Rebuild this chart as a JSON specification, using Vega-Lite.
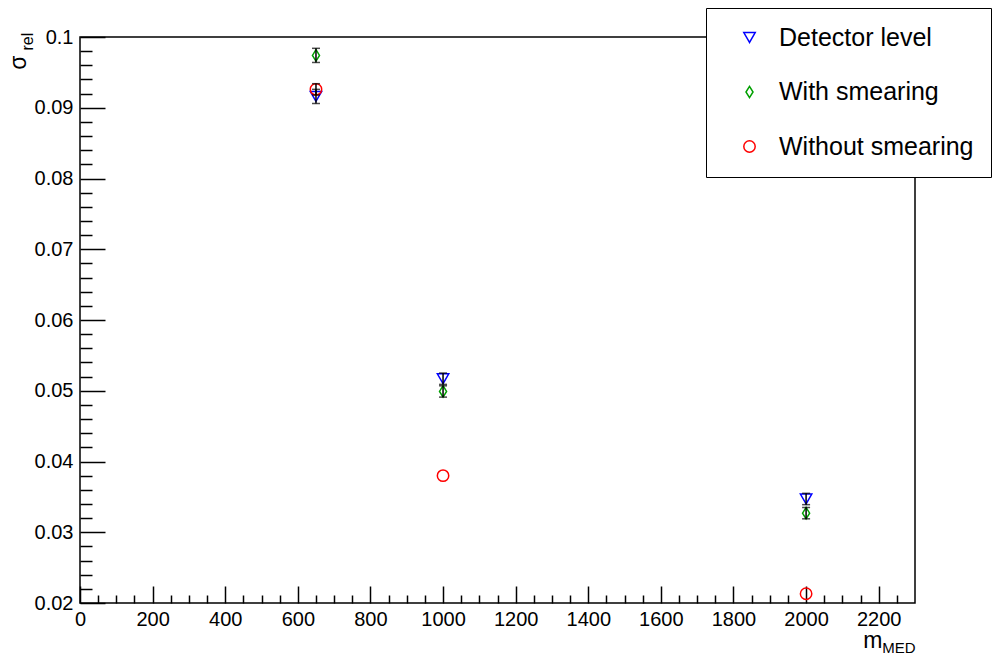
{
  "$schema": "https://vega.github.io/schema/vega-lite/v6.json",
  "width": 835,
  "height": 566,
  "autosize": {"type": "none"},
  "padding": {"left": 80, "top": 37, "right": 80, "bottom": 55},
  "background": "white",
  "config": {
    "view": {"stroke": "black", "strokeWidth": 1.5},
    "font": "Liberation Sans",
    "axis": {
      "grid": false,
      "domain": false,
      "labelFont": "Liberation Sans",
      "titleFont": "Liberation Sans",
      "labelColor": "black",
      "titleColor": "black",
      "tickColor": "black",
      "tickWidth": 1.5,
      "titleFontWeight": "normal",
      "labelFontSize": 20,
      "labelFlush": false,
      "labelOverlap": false
    },
    "legend": {
      "orient": "none",
      "legendX": 626,
      "legendY": -29,
      "strokeColor": "black",
      "fillColor": "white",
      "padding": 17,
      "labelFont": "Liberation Sans",
      "labelFontSize": 25,
      "labelColor": "black",
      "labelLimit": 400,
      "symbolSize": 130,
      "symbolStrokeWidth": 1.5,
      "rowPadding": 28.5,
      "symbolOffset": 14,
      "labelOffset": 17
    }
  },
  "data": {
    "values": [
      {"m": 650, "series": "Detector level", "sigma": 0.0916, "err": 0.001},
      {"m": 650, "series": "With smearing", "sigma": 0.0974, "err": 0.001},
      {"m": 650, "series": "Without smearing", "sigma": 0.0926, "err": 0.0008},
      {"m": 1000, "series": "Detector level", "sigma": 0.0517, "err": 0.0008},
      {"m": 1000, "series": "With smearing", "sigma": 0.0499, "err": 0.0008},
      {"m": 1000, "series": "Without smearing", "sigma": 0.038, "err": 0},
      {"m": 2000, "series": "Detector level", "sigma": 0.0347, "err": 0.0008},
      {"m": 2000, "series": "With smearing", "sigma": 0.0327, "err": 0.0008},
      {"m": 2000, "series": "Without smearing", "sigma": 0.0213, "err": 0}
    ]
  },
  "layer": [
    {
      "mark": {"type": "point", "filled": false, "strokeWidth": 1.5, "size": 130, "opacity": 1},
      "encoding": {
        "x": {
          "field": "m",
          "type": "quantitative",
          "scale": {"domain": [0, 2300], "nice": false, "zero": false},
          "axis": {
            "orient": "bottom",
            "values": [0, 200, 400, 600, 800, 1000, 1200, 1400, 1600, 1800, 2000, 2200],
            "ticks": false,
            "labelPadding": 6,
            "format": "d",
            "title": "m",
            "titleX": 802,
            "titleY": 44,
            "titleAlign": "right",
            "titleBaseline": "alphabetic",
            "titleFontSize": 23,
            "titleAnchor": null
          }
        },
        "y": {
          "field": "sigma",
          "type": "quantitative",
          "scale": {"domain": [0.02, 0.1], "nice": false, "zero": false},
          "axis": {
            "orient": "left",
            "values": [0.02, 0.03, 0.04, 0.05, 0.06, 0.07, 0.08, 0.09, 0.1],
            "ticks": false,
            "labelPadding": 7,
            "format": ".2~f",
            "title": "σ",
            "titleAngle": 270,
            "titleX": -55,
            "titleY": 18,
            "titleAlign": "right",
            "titleBaseline": "alphabetic",
            "titleFontSize": 23,
            "titleAnchor": null
          }
        },
        "color": {
          "field": "series",
          "type": "nominal",
          "scale": {
            "domain": ["Detector level", "With smearing", "Without smearing"],
            "range": ["#0000ff", "#00a000", "#ff0000"]
          },
          "legend": {"title": null}
        },
        "shape": {
          "field": "series",
          "type": "nominal",
          "scale": {
            "domain": ["Detector level", "With smearing", "Without smearing"],
            "range": ["triangle-down", "M0,-1L0.62,0L0,1L-0.62,0Z", "circle"]
          },
          "legend": {"title": null}
        }
      }
    },
    {
      "transform": [{"filter": "datum.err > 0"}],
      "mark": {"type": "errorbar", "ticks": {"size": 8}, "thickness": 1.5, "color": "black"},
      "encoding": {
        "x": {
          "field": "m",
          "type": "quantitative",
          "axis": {
            "orient": "bottom",
            "values": [0, 200, 400, 600, 800, 1000, 1200, 1400, 1600, 1800, 2000, 2200],
            "tickSize": -17,
            "labels": false,
            "title": "MED",
            "titleX": 835,
            "titleY": 49,
            "titleAlign": "right",
            "titleBaseline": "alphabetic",
            "titleFontSize": 15,
            "titleAnchor": null
          }
        },
        "y": {
          "field": "sigma",
          "type": "quantitative",
          "axis": {
            "orient": "left",
            "values": [0.02, 0.03, 0.04, 0.05, 0.06, 0.07, 0.08, 0.09, 0.1],
            "tickSize": -25,
            "labels": false,
            "title": "rel",
            "titleAngle": 270,
            "titleX": -48,
            "titleY": 13,
            "titleAlign": "left",
            "titleBaseline": "alphabetic",
            "titleFontSize": 16,
            "titleAnchor": null
          }
        },
        "yError": {"field": "err"}
      }
    },
    {
      "mark": {"type": "point", "opacity": 0},
      "encoding": {
        "x": {
          "field": "m",
          "type": "quantitative",
          "axis": {
            "orient": "bottom",
            "values": [50, 100, 150, 250, 300, 350, 450, 500, 550, 650, 700, 750, 850, 900, 950, 1050, 1100, 1150, 1250, 1300, 1350, 1450, 1500, 1550, 1650, 1700, 1750, 1850, 1900, 1950, 2050, 2100, 2150, 2250],
            "tickSize": -8,
            "labels": false,
            "title": null
          }
        },
        "y": {
          "field": "sigma",
          "type": "quantitative",
          "axis": {
            "orient": "left",
            "values": [0.022, 0.024, 0.026, 0.028, 0.032, 0.034, 0.036, 0.038, 0.042, 0.044, 0.046, 0.048, 0.052, 0.054, 0.056, 0.058, 0.062, 0.064, 0.066, 0.068, 0.072, 0.074, 0.076, 0.078, 0.082, 0.084, 0.086, 0.088, 0.092, 0.094, 0.096, 0.098],
            "tickSize": -12,
            "labels": false,
            "title": null
          }
        }
      }
    }
  ],
  "resolve": {"axis": {"x": "independent", "y": "independent"}}
}
